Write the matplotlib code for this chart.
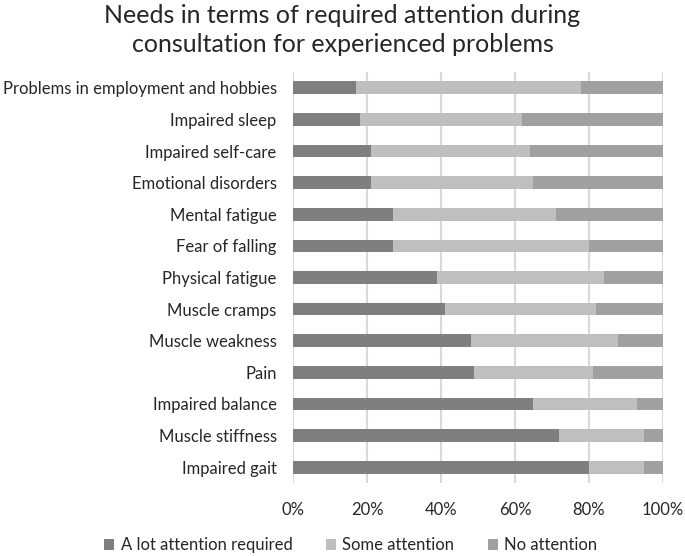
import matplotlib
matplotlib.use("Agg")
import matplotlib.pyplot as plt
from matplotlib.ticker import PercentFormatter

categories = ["Problems in employment and hobbies", "Impaired sleep", "Impaired self-care",
              "Emotional disorders", "Mental fatigue", "Fear of falling", "Physical fatigue",
              "Muscle cramps", "Muscle weakness", "Pain", "Impaired balance",
              "Muscle stiffness", "Impaired gait"]
a_lot = [17, 18, 21, 21, 27, 27, 39, 41, 48, 49, 65, 72, 80]
some = [61, 44, 43, 44, 44, 53, 45, 41, 40, 32, 28, 23, 15]
none_ = [22, 38, 36, 35, 29, 20, 16, 18, 12, 19, 7, 5, 5]
series_names = ["A lot attention required", "Some attention", "No attention"]
colors = ["#7f7f7f", "#bfbfbf", "#a0a0a0"]
xticks = [0, 20, 40, 60, 80, 100]

plt.rcParams['font.family'] = ['Lato', 'DejaVu Sans']
fig = plt.figure(figsize=(6.85, 5.56), dpi=100)
ax = fig.add_axes([293.3/685, 1-483/556, 369.4/685, 411/556])

y = list(range(len(categories)))[::-1]
left = [0]*len(categories)
for vals, name, c in zip([a_lot, some, none_], series_names, colors):
    ax.barh(y, vals, left=left, height=0.4, color=c, label=name, zorder=3)
    left = [l + v for l, v in zip(left, vals)]

ax.set_xlim(0, 100)
ax.set_ylim(-0.5, len(categories)-0.5)
ax.set_yticks(y)
ax.set_yticklabels(categories, fontsize=12, color="#262626")
ax.set_xticks(xticks)
ax.xaxis.set_major_formatter(PercentFormatter(decimals=0))
ax.tick_params(axis='x', labelsize=12, colors="#262626", length=0, pad=14)
ax.tick_params(axis='y', length=0, pad=12)
for s in ax.spines.values():
    s.set_visible(False)
ax.grid(axis='x', color="#d9d9d9", linewidth=1.5, zorder=0)

fig.suptitle("Needs in terms of required attention during\nconsultation for experienced problems",
             y=0.993, fontsize=18, color="#262626", linespacing=1.3)
fig.legend(loc='lower center', bbox_to_anchor=(0.512, -0.022), ncol=3, frameon=False,
           fontsize=12, handlelength=0.6, handleheight=0.6, columnspacing=2.0,
           handletextpad=0.4, labelcolor="#262626")
fig.savefig("out.png", dpi=100)
